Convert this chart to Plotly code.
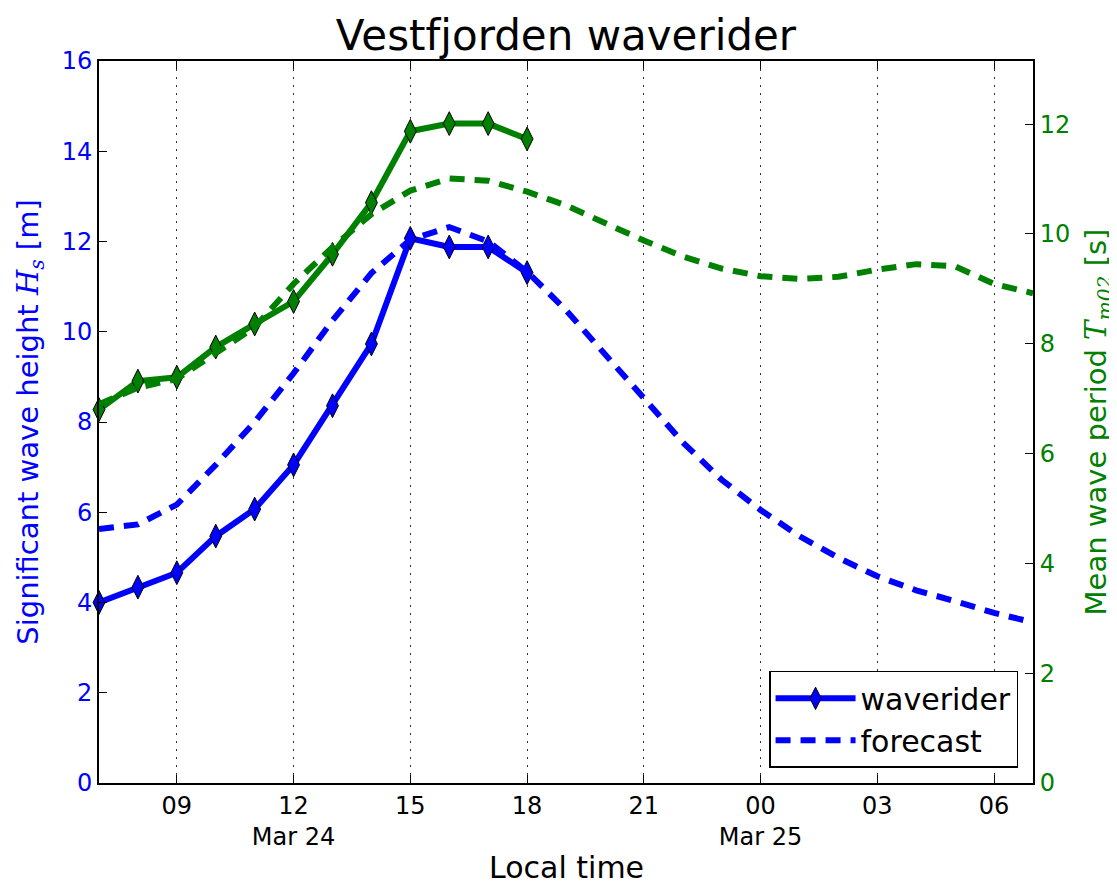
import plotly.graph_objects as go

# ---------------- data ----------------
forecast_times = [
    "2016-03-24 07:00", "2016-03-24 08:00", "2016-03-24 09:00", "2016-03-24 10:00",
    "2016-03-24 11:00", "2016-03-24 12:00", "2016-03-24 13:00", "2016-03-24 14:00",
    "2016-03-24 15:00", "2016-03-24 16:00", "2016-03-24 17:00", "2016-03-24 18:00",
    "2016-03-24 19:00", "2016-03-24 20:00", "2016-03-24 21:00", "2016-03-24 22:00",
    "2016-03-24 23:00", "2016-03-25 00:00", "2016-03-25 01:00", "2016-03-25 02:00",
    "2016-03-25 03:00", "2016-03-25 04:00", "2016-03-25 05:00", "2016-03-25 06:00",
    "2016-03-25 07:00",
]
waverider_times = forecast_times[:12]

waverider_hs = [4.00, 4.34, 4.66, 5.47, 6.07, 7.05, 8.36, 9.73, 12.07, 11.88, 11.88, 11.31]
waverider_tm02 = [6.80, 7.32, 7.39, 7.94, 8.36, 8.77, 9.63, 10.57, 11.87, 12.01, 12.01, 11.73]

forecast_hs = [5.63, 5.73, 6.17, 7.05, 8.00, 9.08, 10.25, 11.30, 12.04, 12.32, 12.00, 11.33,
               10.48, 9.49, 8.52, 7.55, 6.72, 6.05, 5.47, 4.99, 4.58, 4.27, 4.03, 3.77, 3.56]
forecast_tm02 = [6.90, 7.20, 7.36, 7.84, 8.30, 9.09, 9.76, 10.36, 10.79, 11.01, 10.97, 10.77,
                 10.52, 10.20, 9.88, 9.59, 9.37, 9.23, 9.18, 9.22, 9.35, 9.45, 9.41, 9.09, 8.92]

x_tickvals = ["2016-03-24 09:00", "2016-03-24 12:00", "2016-03-24 15:00", "2016-03-24 18:00",
              "2016-03-24 21:00", "2016-03-25 00:00", "2016-03-25 03:00", "2016-03-25 06:00"]
x_ticktext = ["09", "12<br>Mar 24", "15", "18", "21", "00<br>Mar 25", "03", "06"]
x_range = ["2016-03-24 07:00", "2016-03-25 07:00"]

left_ticks = [0, 2, 4, 6, 8, 10, 12, 14, 16]
right_ticks = [0, 2, 4, 6, 8, 10, 12]

# ---------------- style ----------------
BLUE = "#0000ff"
GREEN = "#008000"
FONT = "DejaVu Sans"
DASH = "15px,10px"
LW = 6
FIG_W, FIG_H = 1109, 877   # page body adds an 8px offset

fig = go.Figure()

fig.add_trace(go.Scatter(
    x=waverider_times, y=waverider_hs, name="waverider", mode="lines+markers",
    line=dict(color=BLUE, width=LW),
    marker=dict(symbol="diamond-tall", size=17, color=BLUE, line=dict(color="black", width=1)),
    yaxis="y", cliponaxis=False,
))
fig.add_trace(go.Scatter(
    x=forecast_times, y=forecast_hs, name="forecast", mode="lines",
    line=dict(color=BLUE, width=LW, dash=DASH),
    yaxis="y",
))
fig.add_trace(go.Scatter(
    x=waverider_times, y=waverider_tm02, name="waverider Tm02", mode="lines+markers",
    line=dict(color=GREEN, width=LW),
    marker=dict(symbol="diamond-tall", size=17, color=GREEN, line=dict(color="black", width=1)),
    yaxis="y2", showlegend=False, cliponaxis=False,
))
fig.add_trace(go.Scatter(
    x=forecast_times, y=forecast_tm02, name="forecast Tm02", mode="lines",
    line=dict(color=GREEN, width=LW, dash=DASH),
    yaxis="y2", showlegend=False,
))

fig.update_layout(
    width=FIG_W, height=FIG_H,
    margin=dict(l=91, r=84, t=53, b=102),
    paper_bgcolor="white", plot_bgcolor="white",
    font=dict(family=FONT, color="black", size=24),
    title=dict(text="Vestfjorden waverider", x=0.5, xref="paper", xanchor="center",
               y=1 - 27 / FIG_H, yref="container", yanchor="middle",
               font=dict(size=42, family=FONT, color="black")),
    showlegend=True,
    legend=dict(x=0.984, y=0.021, xanchor="right", yanchor="bottom",
                bgcolor="white", bordercolor="black", borderwidth=1.5,
                font=dict(size=30, family=FONT, color="black"),
                tracegroupgap=0, itemwidth=80),
    annotations=[dict(text="Local time", xref="paper", yref="paper", x=0.5, y=0,
                      xanchor="center", yanchor="middle", yshift=-84, showarrow=False,
                      font=dict(size=30, family=FONT, color="black"))],
    xaxis=dict(
        type="date", range=x_range, automargin=False,
        tickvals=x_tickvals, ticktext=x_ticktext,
        ticks="inside", ticklen=8, tickwidth=1, tickcolor="black",
        showline=True, linecolor="black", linewidth=2, mirror="ticks",
        showgrid=True, gridcolor="#333333", gridwidth=1.2, griddash="2px,6px",
        zeroline=False,
        tickfont=dict(size=24, family=FONT, color="black"),
    ),
    yaxis=dict(
        range=[0, 16], tickvals=left_ticks, automargin=False,
        ticks="inside", ticklen=8, tickwidth=1, tickcolor="black",
        showline=True, linecolor="black", linewidth=2,
        showgrid=False, zeroline=False,
        tickfont=dict(size=24, family=FONT, color=BLUE),
        title=dict(text="Significant wave height <span style='font-family:DejaVu Serif'><i>H</i><sub><i>s</i></sub></span> [m]",
                   font=dict(size=29, family=FONT, color=BLUE), standoff=15),
    ),
    yaxis2=dict(
        range=[0, 13.15], tickvals=right_ticks, automargin=False,
        overlaying="y", side="right",
        ticks="inside", ticklen=8, tickwidth=1, tickcolor="black",
        showline=True, linecolor="black", linewidth=2,
        showgrid=False, zeroline=False,
        tickfont=dict(size=24, family=FONT, color=GREEN),
        title=dict(text="Mean wave period <span style='font-family:DejaVu Serif'><i>T</i><sub><i>m02</i></sub></span> [s]",
                   font=dict(size=29, family=FONT, color=GREEN), standoff=19),
    ),
)

fig.write_html("out.html")
